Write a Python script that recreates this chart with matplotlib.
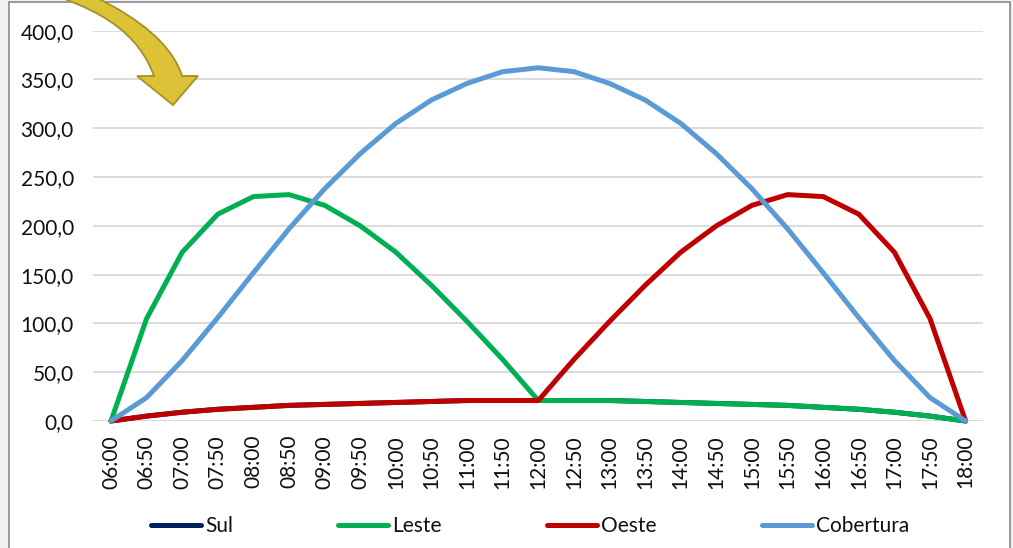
import matplotlib
matplotlib.use("Agg")
import matplotlib.pyplot as plt
from matplotlib.path import Path
from matplotlib.patches import PathPatch, Rectangle
from matplotlib.transforms import Affine2D

plt.rcParams['font.family'] = ['Lato', 'DejaVu Sans']

times = ["06:00","06:50","07:00","07:50","08:00","08:50","09:00","09:50","10:00","10:50","11:00","11:50",
         "12:00","12:50","13:00","13:50","14:00","14:50","15:00","15:50","16:00","16:50","17:00","17:50","18:00"]
sul = [0,5,9,12,14,16,17,18,19,20,21,21,21,21,21,20,19,18,17,16,14,12,9,5,0]
leste = [0,105,173,212,230,232,221,200,173,139,102,63,21,21,21,20,19,18,17,16,14,12,9,5,0]
oeste = [0,5,9,12,14,16,17,18,19,20,21,21,21,63,102,139,173,200,221,232,230,212,173,105,0]
cobertura = [0,24,62,106,152,197,238,274,305,329,346,358,362,358,346,329,305,274,238,197,152,106,62,24,0]
series = [("Sul", sul, "#002060"), ("Leste", leste, "#00B050"),
          ("Oeste", oeste, "#C00000"), ("Cobertura", cobertura, "#5B9BD5")]
yticks = [0, 50, 100, 150, 200, 250, 300, 350, 400]

W, H = 1013, 548
fig = plt.figure(figsize=(W/100, H/100), dpi=100, facecolor="#F0F0F0")
# chart area with thin grey border
fig.add_artist(Rectangle((8.5/W, -0.02), (1010-8.5)/W, 1.02-1.5/H, transform=fig.transFigure,
                         facecolor="white", edgecolor="#868A8A", linewidth=1.2, zorder=-5))

ax = fig.add_axes([93.2/W, 1-421/H, (983.4-93.2)/W, (421-30.7)/H])
ax.patch.set_alpha(0)
x = list(range(len(times)))
for name, vals, col in series:
    ax.plot(x, vals, color=col, linewidth=3.6, label=name, solid_capstyle="round",
            solid_joinstyle="round", clip_on=False)
ax.set_xlim(-0.5, 24.5)
ax.set_ylim(0, 400)
ax.set_xticks(x)
ax.set_xticklabels(times, rotation=90)
ax.set_yticks(yticks)
ax.set_yticklabels([f"{v:.1f}".replace(".", ",") for v in yticks])
ax.tick_params(axis="both", length=0, labelsize=15, labelcolor="#111111")
ax.tick_params(axis="x", pad=10)
ax.tick_params(axis="y", pad=14)
ax.grid(axis="y", color="#D9D9D9", linewidth=1.3)
ax.set_axisbelow(True)
for s in ax.spines.values():
    s.set_visible(False)
ax.axhline(0, color="#D9D9D9", linewidth=1.3, zorder=0.5)

leg = fig.legend(loc="center left", bbox_to_anchor=(151/W, 1-526/H), ncol=4, frameon=False,
                 fontsize=15, handlelength=2.4, handletextpad=0.2, columnspacing=5.05,
                 labelcolor="#111111", borderpad=0, borderaxespad=0)

# decorative arrow, in picture pixels (y down)
verts = [(62,-2),(100,12),(138,32),(154,76),(137,76),(173,105),(198,76),(182,76),
         (172,44),(138,18),(97,-2),(62,-2)]
codes = [Path.MOVETO,Path.CURVE4,Path.CURVE4,Path.CURVE4,Path.LINETO,Path.LINETO,Path.LINETO,Path.LINETO,
         Path.CURVE4,Path.CURVE4,Path.CURVE4,Path.CLOSEPOLY]
to_fig = Affine2D().scale(1/W, -1/H).translate(0, 1) + fig.transFigure
fig.add_artist(PathPatch(Path(verts, codes), transform=to_fig, facecolor="#DDC136",
                         edgecolor="#A39128", linewidth=1.3, zorder=5))

fig.savefig("out.png", dpi=100, facecolor=fig.get_facecolor())
